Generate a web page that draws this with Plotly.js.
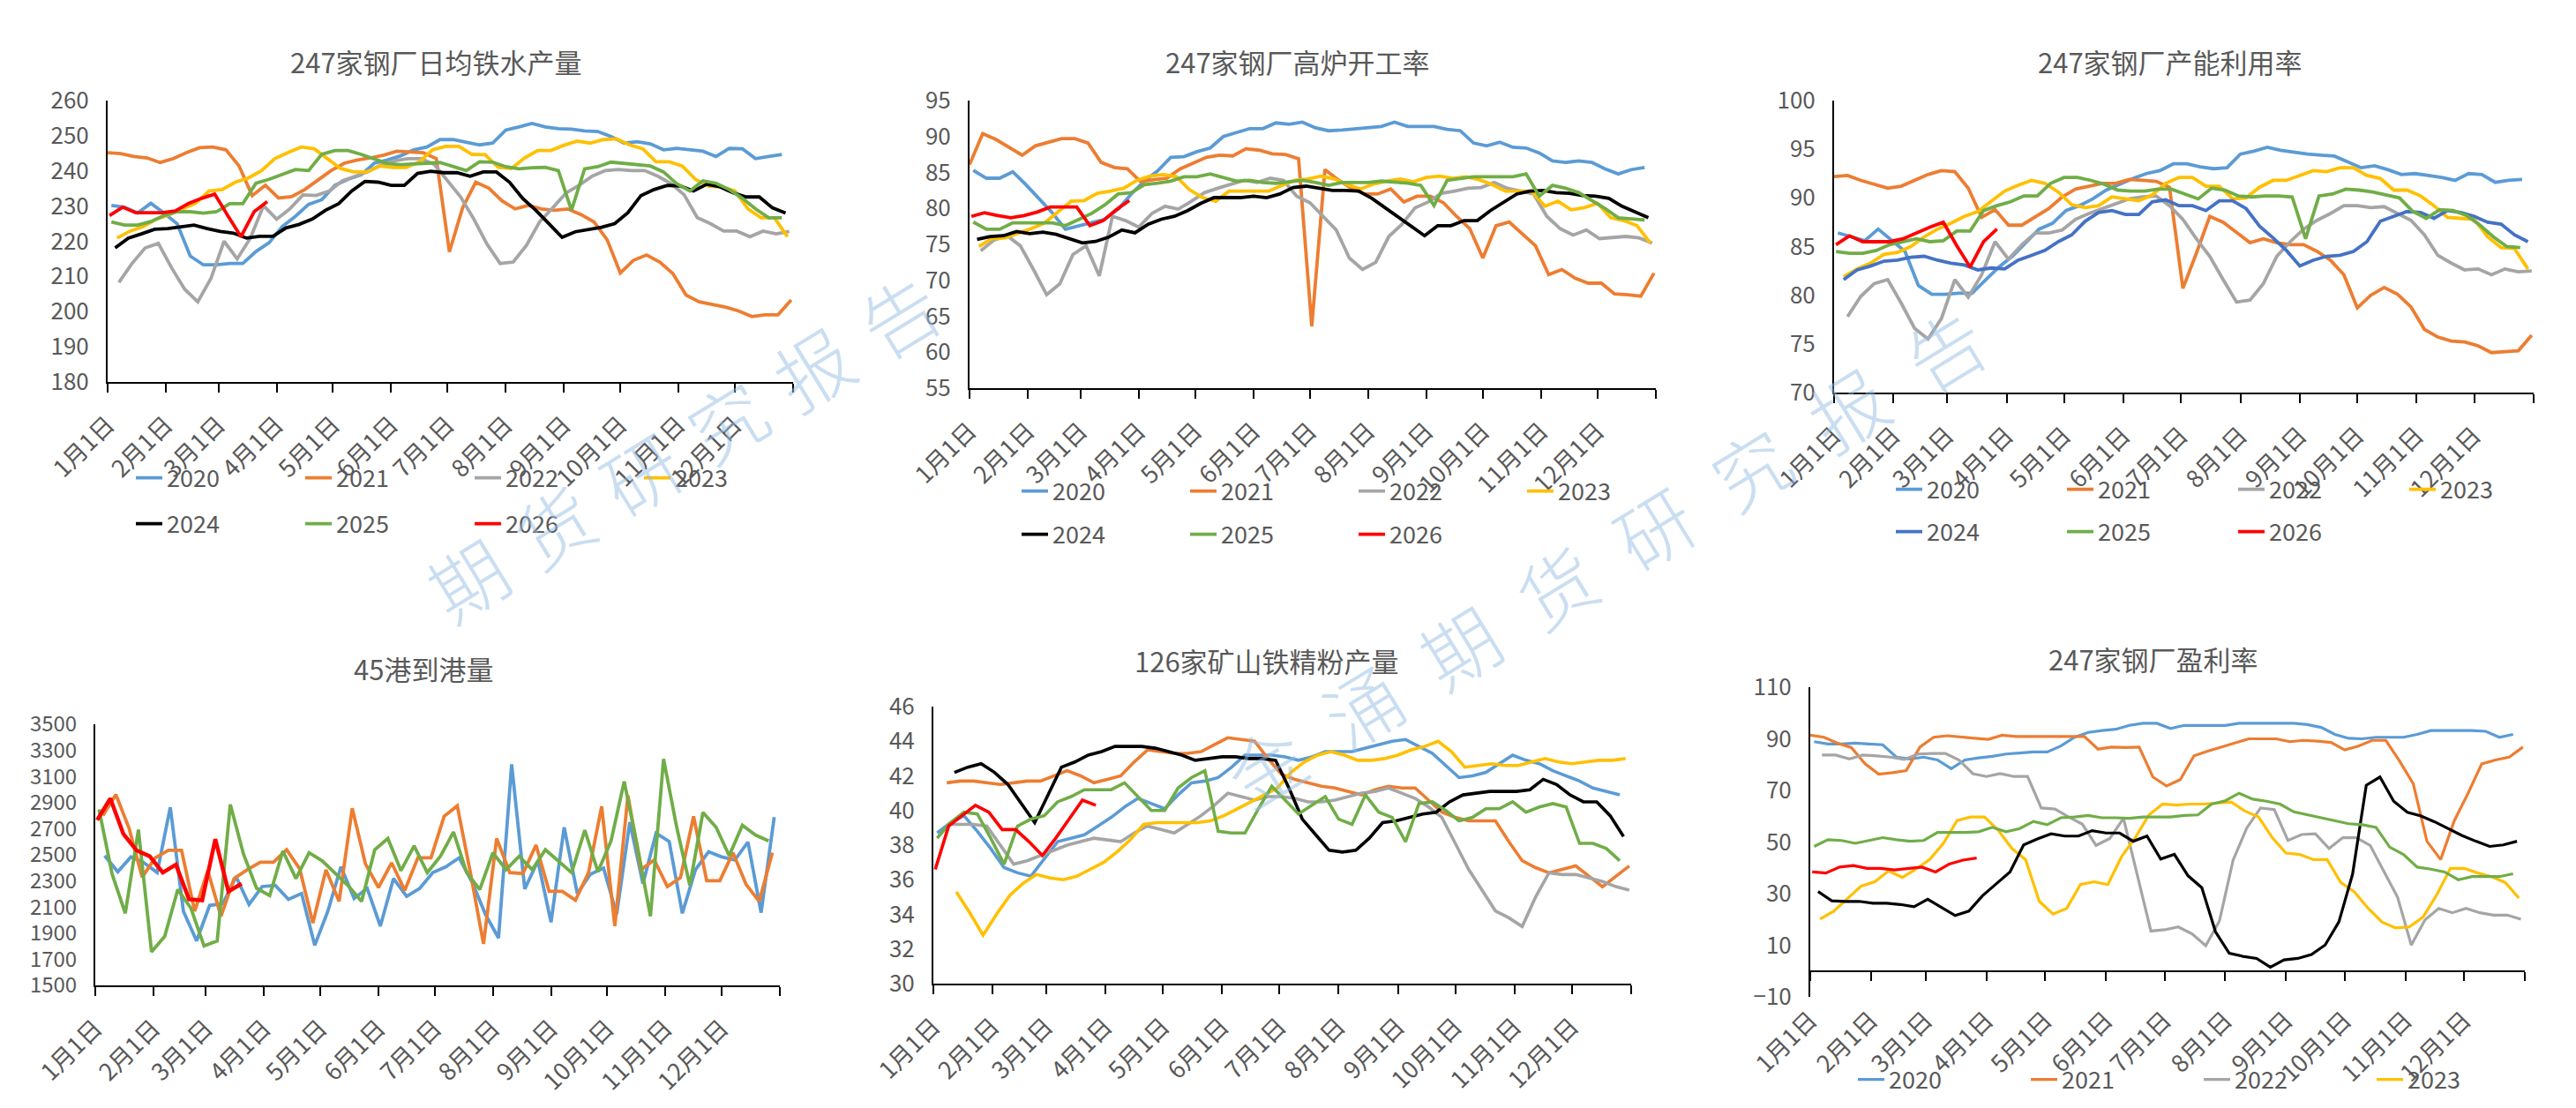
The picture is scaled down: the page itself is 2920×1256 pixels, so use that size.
<!DOCTYPE html>
<html><head><meta charset="utf-8">
<script src="https://cdn.plot.ly/plotly-3.0.1.min.js"></script>
<style>html,body{margin:0;padding:0;background:#fff;}#chart{width:2920px;height:1256px;}</style>
</head><body><div id="chart"></div>
<script>
// ---------- shared calendar axis ----------
const MONTH_DAYS = [0,31,59,90,120,151,181,212,243,273,304,334,365];
const MONTH_LABELS = ['1月1日','2月1日','3月1日','4月1日','5月1日','6月1日','7月1日','8月1日','9月1日','10月1日','11月1日','12月1日',''];
const YEARS = ['2020','2021','2022','2023','2024','2025','2026'];

// ---------- 247家钢厂日均铁水产量 ----------
const hm_start = [2,0,6,5,4,2,1];
const hm_2020 = [230.2,229.7,228.0,230.8,228.0,225.0,215.8,213.3,213.3,213.7,213.7,217.1,219.6,224.2,227.1,230.5,231.8,235.9,237.6,238.9,242.2,243.1,244.3,246.0,246.8,248.9,248.9,248.1,247.4,247.9,251.6,252.5,253.5,252.5,252.0,251.9,251.4,251.2,249.8,247.9,248.3,247.7,246.0,246.4,246.0,245.6,244.1,246.4,246.3,243.5,244.1,244.7];
const hm_2021 = [245.2,244.9,244.1,243.7,242.4,243.5,245.2,246.6,246.8,246.0,241.4,233.0,235.9,232.3,232.7,234.7,237.4,240.1,242.2,243.1,243.7,244.5,245.6,245.3,245.2,243.5,217.0,229.5,236.8,235.1,231.5,229.2,230.2,229.2,228.8,229.2,227.6,225.5,220.4,211.0,214.6,216.1,214.1,210.8,204.7,202.8,202.0,201.3,200.2,198.6,199.1,199.1,203.3];
const hm_2022 = [208.3,213.7,218.1,219.4,212.5,206.4,202.8,209.4,220.0,215.0,220.9,230.1,226.3,229.2,233.2,233.0,234.3,237.2,238.5,239.9,241.8,242.9,243.5,243.5,241.8,237.2,232.6,226.3,219.2,213.7,214.1,218.8,225.5,229.5,233.7,235.9,238.5,240.1,240.4,240.1,240.1,238.5,236.4,233.2,226.7,225.0,222.9,222.9,221.3,222.9,222.1,222.8];
const hm_2023 = [220.9,222.9,224.2,226.3,227.6,229.2,230.9,234.3,234.7,236.8,238.0,240.1,243.5,245.2,246.8,246.3,243.5,240.7,239.7,239.7,241.4,241.0,241.0,242.6,246.0,247.0,247.0,244.7,244.6,241.0,240.7,243.7,245.8,245.8,247.3,248.5,247.9,248.9,249.1,247.4,246.3,242.6,242.6,241.4,237.6,235.7,235.4,234.3,229.2,226.7,226.7,221.3];
const hm_2024 = [218.1,220.9,222.1,223.4,223.6,224.2,224.6,223.6,222.8,222.3,220.9,221.4,221.4,223.8,224.8,226.3,228.8,230.7,234.3,237.0,236.8,235.9,235.9,239.3,239.9,239.5,239.5,238.5,239.7,239.7,236.8,232.2,228.8,225.0,221.1,222.7,223.4,224.0,225.0,228.1,233.0,234.7,235.9,235.7,234.3,236.2,235.5,233.8,232.6,232.6,229.5,228.0];
const hm_2025 = [225.5,224.6,224.6,225.6,227.3,228.4,228.4,228.0,228.4,230.7,230.7,236.5,237.6,239.0,240.4,240.1,244.7,245.8,245.8,244.7,243.5,242.1,241.8,242.1,242.2,242.4,241.2,240.1,242.6,242.5,241.2,240.6,240.9,241.0,240.1,228.8,240.6,241.2,242.5,242.1,241.9,241.4,239.7,236.4,234.3,237.2,236.5,234.7,232.2,229.2,226.7,226.7];
const hm_2026 = [227.3,229.7,228.1,228.1,228.1,228.6,230.7,232.2,233.4,227.3,221.3,228.4,231.3];

// ---------- 247家钢厂高炉开工率 ----------
const bf_start = [2,0,6,5,4,2,1];
const bf_2020 = [85.3,84.2,84.2,85.1,83.3,81.4,79.4,77.1,77.6,78.0,78.5,79.9,82.0,83.8,85.2,87.1,87.2,87.9,88.4,90.0,90.6,91.1,91.1,91.9,91.7,92.0,91.2,90.8,90.9,91.1,91.2,91.4,92.0,91.4,91.4,91.4,91.0,90.8,89.1,88.7,89.2,88.5,88.4,87.7,86.6,86.4,86.6,86.4,85.5,84.8,85.4,85.7];
const bf_2021 = [86.1,90.4,89.6,88.5,87.4,88.7,89.2,89.7,89.7,89.1,86.4,85.7,85.5,83.7,84.0,84.2,85.5,86.3,87.1,87.4,87.3,88.3,88.1,87.6,87.5,86.9,63.6,85.4,84.0,82.8,82.0,82.0,82.7,80.9,81.7,81.7,80.8,78.9,77.2,73.1,77.6,78.1,76.5,74.8,70.8,71.5,70.3,69.6,69.6,68.1,68.0,67.8,71.0];
const bf_2022 = [74.1,75.6,76.2,74.8,71.5,68.0,69.5,73.6,74.8,70.6,78.9,78.3,77.4,79.3,80.3,79.9,81.0,82.2,82.8,83.3,83.9,83.6,84.2,83.9,81.7,80.8,78.9,77.0,73.1,71.5,72.5,76.1,77.8,80.1,80.9,82.1,82.4,82.8,82.9,83.6,82.8,82.4,82.0,78.9,77.2,76.3,77.0,75.8,76.0,76.1,75.9,75.2];
const bf_2023 = [74.7,75.8,75.9,76.5,77.2,78.0,79.5,81.0,81.1,82.1,82.4,82.8,83.9,84.5,84.7,84.4,82.6,81.5,81.0,82.4,82.4,82.4,82.4,83.2,83.9,84.1,84.5,84.1,83.3,82.7,83.4,83.8,84.1,83.7,84.3,84.5,84.2,84.4,84.0,83.3,82.4,82.4,82.4,80.3,81.0,79.8,80.1,80.7,78.7,78.3,77.6,75.2];
const bf_2024 = [75.7,76.1,76.2,76.8,76.5,76.7,76.4,75.8,75.2,75.4,76.0,77.0,76.6,77.8,78.5,78.9,79.7,80.7,81.5,81.5,81.5,81.7,81.5,82.0,82.9,83.1,82.8,82.5,82.5,82.4,81.4,80.1,78.8,77.4,76.2,77.6,77.6,78.3,78.3,79.7,80.9,82.0,82.4,82.5,82.2,82.1,81.8,81.7,81.4,80.3,79.5,78.7];
const bf_2025 = [78.1,77.1,77.1,78.0,78.0,78.0,78.0,77.6,78.4,79.3,80.5,82.0,82.2,83.3,83.5,83.8,84.4,84.4,84.8,84.3,83.8,83.9,83.6,83.5,83.7,83.9,83.6,83.2,83.6,83.6,83.6,83.8,83.7,83.5,83.2,80.4,83.9,84.1,84.4,84.4,84.4,84.4,84.8,81.7,83.2,82.8,82.2,81.1,80.0,78.7,78.5,78.4];
const bf_2026 = [78.9,79.4,79.0,78.7,79.0,79.5,80.2,80.2,80.2,77.6,78.3,79.8,81.1];

// ---------- 247家钢厂产能利用率 ----------
const cu_start = [2,0,7,5,5,1,1];
const cu_2020 = [86.4,86.0,85.6,86.8,85.7,84.5,81.0,80.1,80.1,80.2,80.2,81.6,82.9,84.0,85.4,86.8,87.4,88.7,89.2,89.9,90.8,91.4,92.0,92.5,92.8,93.5,93.5,93.2,93.0,93.1,94.5,94.8,95.2,94.9,94.7,94.5,94.4,94.3,93.7,93.1,93.3,92.9,92.4,92.5,92.3,92.1,91.8,92.5,92.4,91.6,91.8,91.9];
const cu_2021 = [92.2,92.3,91.8,91.4,91.0,91.2,91.8,92.4,92.8,92.7,91.0,88.0,88.8,87.2,87.2,88.0,88.9,90.1,90.9,91.2,91.5,91.5,91.9,91.8,91.7,91.1,80.7,84.3,88.1,87.5,86.4,85.4,85.8,85.4,85.2,85.2,84.5,83.6,82.1,78.7,80.0,80.8,80.1,78.8,76.5,75.7,75.3,75.2,74.8,74.1,74.2,74.3,75.9];
const cu_2022 = [77.8,79.9,81.2,81.6,79.2,76.6,75.5,77.6,81.6,79.8,82.1,85.5,83.7,85.2,86.4,86.4,86.7,87.8,88.4,88.9,89.4,89.9,90.1,90.2,89.2,87.8,85.8,84.0,81.6,79.3,79.5,81.2,84.0,85.5,86.8,87.7,88.4,89.2,89.2,89.0,89.1,88.4,87.7,86.2,84.1,83.3,82.6,82.7,82.1,82.7,82.4,82.5];
const cu_2023 = [81.9,82.7,83.3,84.2,84.4,85.0,86.0,86.8,87.4,88.1,88.6,89.6,90.7,91.3,91.8,91.5,90.6,89.3,89.0,89.2,90.1,89.9,89.7,90.3,91.5,92.1,92.1,91.2,91.2,89.9,90.0,91.1,91.8,91.8,92.3,92.8,92.7,93.1,93.1,92.3,92.0,90.8,90.8,90.2,89.2,88.0,87.9,87.8,86.0,84.9,84.8,82.7];
const cu_2024 = [81.6,82.6,83.0,83.5,83.6,83.9,84.0,83.6,83.3,83.1,82.6,82.8,82.7,83.6,84.1,84.6,85.5,86.2,87.6,88.5,88.7,88.3,88.3,89.6,89.8,89.2,89.2,88.7,89.7,89.7,88.9,87.1,85.9,84.6,83.0,83.6,84.0,84.1,84.5,85.5,87.6,88.1,88.6,88.5,87.9,88.7,88.5,88.1,87.5,87.3,86.2,85.5];
const cu_2025 = [84.5,84.3,84.3,84.6,85.2,85.5,85.8,85.5,85.6,86.6,86.6,88.7,89.2,89.6,90.2,90.2,91.5,92.1,92.1,91.8,91.4,90.8,90.7,90.7,90.9,90.9,90.4,89.9,91.0,90.8,90.2,90.1,90.2,90.2,90.1,85.8,90.2,90.4,90.9,90.8,90.6,90.3,90.0,88.6,87.9,88.8,88.7,88.2,87.2,86.0,85.0,84.9];
const cu_2026 = [85.2,86.1,85.5,85.5,85.5,85.8,86.4,87.0,87.5,85.1,82.9,85.5,86.8];

// ---------- 45港到港量 ----------
const arr_names = ['2023','2024','2025','2026'];
const arr_start = [5,4,2,1];
const arr_2023 = [2493,2370,2484,2439,2364,2864,2068,1841,2113,2125,2334,2120,2257,2266,2159,2204,1807,2068,2409,2166,2243,1954,2318,2182,2243,2364,2409,2477,2289,2045,1863,3193,2238,2454,1984,2711,2204,2352,2398,2045,2750,2279,2666,2602,2052,2386,2523,2484,2461,2598,2057,2789];
const arr_2024 = [2800,2961,2704,2329,2477,2534,2534,2068,2379,2029,2318,2386,2443,2443,2539,2393,1977,2386,2143,2857,2432,2250,2439,2227,2477,2477,2795,2875,2364,1818,2625,2364,2357,2575,2220,2220,2152,2364,2870,1954,2954,2386,2461,2257,2325,2795,2302,2302,2516,2273,2143,2516];
const arr_2025 = [2848,2352,2052,2693,1757,1875,2234,2091,1802,1841,2886,2507,2243,2188,2529,2318,2516,2454,2357,2261,2143,2539,2625,2379,2568,2364,2489,2675,2364,2234,2516,2386,2489,2386,2539,2454,2364,2689,2370,2607,3061,2568,2029,3234,2711,2266,2825,2711,2493,2727,2652,2607];
const arr_2026 = [2766,2932,2659,2534,2489,2364,2425,2159,2152,2620,2220,2279];

// ---------- 126家矿山铁精粉产量 ----------
const conc_start = [2,7,7,12,11,2,1];
const conc_2020 = [38.7,39.3,39.7,38.8,37.8,36.7,36.4,36.2,37.2,38.2,38.4,38.6,39.1,39.6,40.2,40.7,40.4,40.1,40.9,41.6,41.7,41.9,42.5,43.2,43.2,43.2,43.1,42.9,43.1,43.4,43.4,43.4,43.6,43.8,44.0,44.1,43.7,43.3,42.6,41.9,42.0,42.2,42.7,43.2,42.9,42.7,42.3,42.0,41.7,41.3,41.1,40.9];
const conc_2021 = [41.6,41.7,41.7,41.6,41.5,41.6,41.7,41.7,42.0,42.3,42.0,41.6,41.8,42.0,42.8,43.5,43.4,43.3,43.3,43.4,43.8,44.2,44.1,44.0,43.0,42.1,41.8,41.6,41.4,41.3,41.1,40.9,41.2,41.4,41.3,41.3,40.6,39.9,39.6,39.4,39.4,39.4,38.2,37.1,36.7,36.4,36.6,36.8,36.2,35.6,36.2,36.8];
const conc_2022 = [39.2,39.2,39.2,39.1,38.0,36.9,37.1,37.4,37.7,38.0,38.2,38.4,38.3,38.2,38.7,39.1,38.9,38.7,39.2,39.7,40.3,41.0,40.8,40.6,40.8,40.8,40.7,40.5,40.5,40.6,40.8,41.0,41.1,41.3,41.0,40.7,40.2,39.6,38.1,36.6,35.4,34.2,33.8,33.3,35.0,36.4,36.3,36.3,36.1,35.9,35.6,35.4];
const conc_2023 = [35.3,34.1,32.8,34.0,35.1,35.8,36.3,36.1,36.0,36.2,36.6,37.0,37.6,38.3,39.2,39.3,39.3,39.3,39.3,39.4,39.7,40.1,40.5,40.9,41.3,42.2,42.8,43.2,43.4,43.2,42.9,42.9,43.0,43.2,43.5,43.7,44.0,43.4,42.5,42.6,42.7,42.6,42.6,42.8,43.0,42.8,42.7,42.8,42.9,42.9,43.0];
const conc_2024 = [42.2,42.5,42.7,42.2,41.5,40.4,39.3,40.9,42.5,42.8,43.2,43.4,43.7,43.7,43.7,43.6,43.4,43.2,42.9,43.0,43.1,43.1,43.0,43.0,42.9,41.3,39.5,38.6,37.7,37.6,37.7,38.4,39.3,39.4,39.6,39.8,39.9,40.5,40.9,41.0,41.1,41.1,41.1,41.2,41.8,41.5,40.9,40.5,40.5,39.7,38.5];
const conc_2025 = [38.4,39.3,39.9,39.8,38.4,36.9,39.1,39.5,39.7,40.5,40.8,41.2,41.2,41.2,41.6,40.8,40.0,40.0,41.3,41.9,42.3,38.8,38.7,38.7,40.1,41.4,40.6,39.8,40.3,40.8,39.5,39.2,40.9,39.9,39.6,38.2,40.4,40.5,40.0,39.4,39.6,40.1,40.1,40.5,39.9,40.2,40.4,40.2,38.1,38.1,37.8,37.1];
const conc_2026 = [36.6,39.1,39.7,40.3,39.9,38.9,38.9,38.2,37.4,38.4,39.5,40.6,40.3];

// ---------- 247家钢厂盈利率 ----------
const prof_start = [2,0,6,5,4,2,1];
const prof_2020 = [88.9,88.0,88.0,88.3,88.0,87.7,82.9,82.2,82.9,81.8,78.4,81.8,82.6,83.2,84.1,84.5,84.9,84.9,87.2,90.6,92.5,93.2,93.7,95.2,96.0,96.0,94.0,95.2,95.2,95.2,95.2,96.0,96.0,96.0,96.0,96.0,95.5,94.4,91.7,90.2,90.0,90.6,90.6,90.6,91.7,93.2,93.2,93.2,93.2,92.9,90.6,91.7];
const prof_2021 = [91.4,90.6,88.3,86.6,80.3,76.3,76.9,77.7,86.8,90.6,91.2,90.6,90.2,89.8,91.4,90.9,90.9,90.9,90.9,90.9,90.9,86.0,86.8,86.6,86.8,75.2,71.7,74.2,83.4,85.2,86.8,88.6,90.0,90.0,90.0,88.9,89.4,89.1,88.6,85.7,87.2,89.4,89.4,81.4,72.6,50.3,43.2,58.3,68.9,80.3,81.8,82.9,86.8];
const prof_2022 = [83.7,83.7,82.2,83.7,83.4,82.9,82.0,84.1,84.3,84.3,81.8,76.5,75.4,76.5,75.4,75.4,63.2,62.8,59.7,56.9,48.7,51.4,59.2,37.0,15.5,16.0,17.1,14.4,9.8,19.4,43.0,55.5,63.2,62.6,50.6,52.9,53.2,47.5,51.7,51.7,48.7,38.6,28.6,10.1,19.8,24.3,22.6,24.3,22.6,21.7,21.7,20.1];
const prof_2023 = [20.1,23.2,28.1,32.9,34.6,38.8,36.3,39.5,43.2,49.5,58.3,59.7,59.7,54.6,47.5,43.2,27.0,22.1,24.3,33.5,34.6,33.5,44.3,51.7,60.5,64.7,64.3,64.7,64.7,65.1,65.5,62.0,59.7,51.7,45.7,45.2,43.2,43.2,34.3,30.6,24.3,19.0,16.7,17.1,20.9,29.5,39.8,39.8,38.0,36.6,34.3,28.3];
const prof_2024 = [30.8,27.2,27.0,27.0,26.3,26.3,25.8,24.9,27.8,24.7,21.5,23.2,29.2,33.8,38.4,48.9,51.2,53.2,52.3,52.3,54.4,53.5,53.5,50.3,52.3,43.4,45.2,36.9,32.3,15.2,6.9,5.7,4.9,1.5,4.3,4.9,6.4,10.1,19.0,37.5,72.0,75.2,65.8,61.5,60.1,57.8,55.2,52.5,50.3,48.3,48.9,50.3];
const prof_2025 = [48.3,50.9,50.6,49.5,50.6,51.7,50.9,50.3,50.6,53.7,53.7,53.7,54.0,55.7,54.0,55.2,58.0,56.7,59.4,59.7,60.3,59.4,59.4,59.2,59.7,59.7,59.7,60.3,60.5,64.7,66.0,68.9,66.6,65.8,64.7,61.7,60.5,59.4,58.3,57.1,56.7,55.7,48.0,45.2,40.3,39.5,38.4,35.4,36.6,36.6,36.6,37.7];
const prof_2026 = [38.4,38.0,40.3,40.9,39.8,39.8,39.2,39.8,40.3,38.4,41.5,43.0,43.8];

// ---------- styling ----------
const FONT = "'Noto Sans CJK SC','Noto Sans',sans-serif";
const GREY = '#595959';
const COL = {'2020':'#5B9BD5','2021':'#ED7D31','2022':'#A5A5A5','2023':'#FFC000','2024':'#000000','2025':'#70AD47','2026':'#FF0000'};
const W = 2920, H = 1256;

const traces = [];
function addLine(k, name, vals, start, color, width, legendId, showLeg) {
  traces.push({
    type:'scatter', mode:'lines', name:name,
    x: vals.map((_, i) => start + 7*i), y: vals,
    xaxis: k === 1 ? 'x' : 'x'+k, yaxis: k === 1 ? 'y' : 'y'+k,
    line:{color:color, width:width, shape:'linear'},
    legend: legendId, showlegend: showLeg, hoverinfo:'skip'
  });
}
function addChart(k, series, starts, colors, width, legRow1, legRow2, legCount) {
  series.forEach((vals, j) => {
    const leg = j < 4 ? legRow1 : legRow2;
    addLine(k, YEARS[j], vals, starts[j], colors[j], width, leg, j < legCount);
  });
}
const stdColors = YEARS.map(y => COL[y]);
const cuColors = stdColors.slice(); cuColors[4] = '#4472C4';

addChart(1, [hm_2020,hm_2021,hm_2022,hm_2023,hm_2024,hm_2025,hm_2026], hm_start, stdColors, 3.8, 'legend', 'legend2', 7);
addChart(2, [bf_2020,bf_2021,bf_2022,bf_2023,bf_2024,bf_2025,bf_2026], bf_start, stdColors, 3.8, 'legend3', 'legend4', 7);
addChart(3, [cu_2020,cu_2021,cu_2022,cu_2023,cu_2024,cu_2025,cu_2026], cu_start, cuColors, 3.8, 'legend5', 'legend6', 7);
[arr_2023, arr_2024, arr_2025, arr_2026].forEach((vals, j) => {
  addLine(4, arr_names[j], vals, arr_start[j], [COL['2020'],COL['2021'],COL['2025'],COL['2026']][j], j === 3 ? 4.5 : 3.8, 'legend', false);
});
addChart(5, [conc_2020,conc_2021,conc_2022,conc_2023,conc_2024,conc_2025,conc_2026], conc_start, stdColors, 3.6, 'legend', 'legend', 0);
addChart(6, [prof_2020,prof_2021,prof_2022,prof_2023,prof_2024,prof_2025,prof_2026], prof_start, stdColors, 3.2, 'legend7', 'legend7', 4);

// ---------- plot areas (pixels) ----------
const boxes = {
  1:{x0:122, x1:899, y0:114, y1:433, range:[180,260], dtick:10, tick0:180},
  2:{x0:1099,x1:1877,y0:114, y1:440, range:[55,95],   dtick:5,  tick0:55},
  3:{x0:2079,x1:2872,y0:114, y1:445, range:[70,100],  dtick:5,  tick0:70},
  4:{x0:108, x1:884, y0:821, y1:1117,range:[1500,3500],dtick:200,tick0:1500},
  5:{x0:1058,x1:1849,y0:801, y1:1115,range:[30,46],   dtick:2,  tick0:30},
  6:{x0:2052,x1:2862,y0:779, y1:1130,range:[-10,110], dtick:20, tick0:-10}
};
const layout = {
  width:W, height:H, margin:{l:0,r:0,t:0,b:0,pad:0,autoexpand:false},
  paper_bgcolor:'#ffffff', plot_bgcolor:'rgba(0,0,0,0)',
  font:{family:FONT, color:GREY}, annotations:[], showlegend:true
};
Object.keys(boxes).forEach(key => {
  const k = +key, b = boxes[k];
  const xs = k === 1 ? 'xaxis' : 'xaxis'+k, ys = k === 1 ? 'yaxis' : 'yaxis'+k;
  layout[xs] = {
    domain:[b.x0/W, b.x1/W], anchor: k === 1 ? 'y' : 'y'+k,
    range:[0,365], tickmode:'array', tickvals:MONTH_DAYS, ticktext:MONTH_LABELS,
    tickangle:-45, ticks: k === 6 ? '' : 'outside', ticklen:10, tickwidth:2, tickcolor:'#000',
    showline: k !== 6, linecolor:'#000', linewidth:2, showgrid:false, zeroline:false,
    tickfont:{size:27, color:GREY, family:FONT}, ticklabelstandoff: k === 6 ? 4 : 10, fixedrange:true
  };
  layout[ys] = {
    domain:[1-b.y1/H, 1-b.y0/H], anchor: k === 1 ? 'x' : 'x'+k,
    range:b.range, tickmode:'linear', tick0:b.tick0, dtick:b.dtick,
    showline:true, linecolor:'#000', linewidth:2, ticks:'', showgrid:false, zeroline:false,
    tickfont:{size: k === 4 ? 24 : 26, color:GREY, family:FONT}, ticklabelstandoff:14, fixedrange:true
  };
});
// zero-line axis with month ticks for the profit chart
layout.xaxis7 = {
  overlaying:'x6', anchor:'free', position: 1 - 1101/H,
  range:[0,365], tickmode:'array', tickvals:MONTH_DAYS, showticklabels:false,
  ticks:'outside', ticklen:10, tickwidth:2, tickcolor:'#000',
  showline:true, linecolor:'#000', linewidth:2, showgrid:false, zeroline:false, fixedrange:true
};
traces.push({type:'scatter', mode:'lines', x:[0,365], y:[null,null], xaxis:'x7', yaxis:'y6', showlegend:false, hoverinfo:'skip'});

// ---------- legends ----------
function leg(xPix, yPix, step) {
  return {orientation:'h', x:(xPix-8)/W, y:1-yPix/H, xanchor:'left', yanchor:'middle',
    entrywidth:step-43, entrywidthmode:'pixels', bgcolor:'rgba(0,0,0,0)',
    font:{size:27, color:GREY, family:FONT}, traceorder:'normal', itemclick:false, itemdoubleclick:false};
}
layout.legend  = leg(157, 542, 190);
layout.legend2 = leg(157, 594, 190);
layout.legend3 = leg(1161, 557, 189);
layout.legend4 = leg(1161, 606, 189);
layout.legend5 = leg(2152, 555, 192);
layout.legend6 = leg(2152, 603, 192);
layout.legend7 = leg(2109, 1224, 194);

// ---------- titles ----------
const titles = [
  ['247家钢厂日均铁水产量', 494, 69],
  ['247家钢厂高炉开工率', 1471, 69],
  ['247家钢厂产能利用率', 2460, 69],
  ['45港到港量', 480, 757],
  ['126家矿山铁精粉产量', 1436, 748],
  ['247家钢厂盈利率', 2441, 746]
];
titles.forEach(t => layout.annotations.push({
  text:t[0], x:t[1]/W, y:1-t[2]/H, xref:'paper', yref:'paper', showarrow:false,
  xanchor:'center', yanchor:'middle', font:{size:31, color:GREY, family:FONT}
}));
// ---------- watermark ----------
const WM_FONT = {size:86, color:'rgba(150,190,228,0.5)', family:FONT, weight:300};
layout.annotations.push({
  text:['期','货','研','究','报','告'].join('\u2004'), x:773/W, y:1-505/H, xref:'paper', yref:'paper',
  xanchor:'center', yanchor:'middle', showarrow:false, textangle:-31.5, font:WM_FONT
});
layout.annotations.push({
  text:['金','涌','期','货','研','究','报','告'].join('\u2002'), x:1818/W, y:1-630/H, xref:'paper', yref:'paper',
  xanchor:'center', yanchor:'middle', showarrow:false, textangle:-31.5, font:WM_FONT
});

Plotly.newPlot('chart', traces, layout, {staticPlot:true, displayModeBar:false});
</script>
</body></html>
